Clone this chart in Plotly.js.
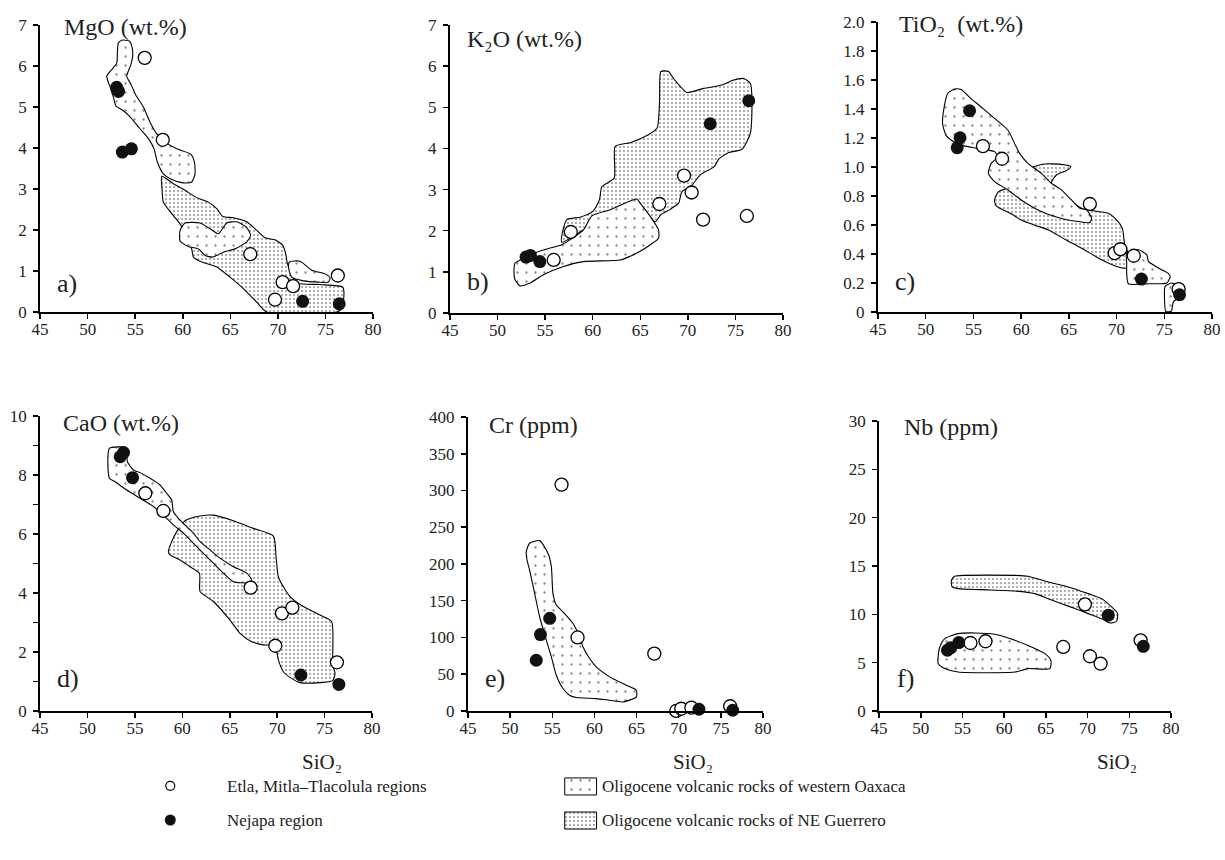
<!DOCTYPE html>
<html><head><meta charset="utf-8">
<script src="https://cdn.plot.ly/plotly-3.0.1.min.js"></script>
<style>html,body{margin:0;padding:0;background:#fff}#chart{width:1225px;height:860px}</style>
</head><body><div id="chart"></div>
<script>
// ---------- DATA ----------
const X_TICKS = [45,50,55,60,65,70,75,80];

// a) MgO
const mgoEtlaSi = [56.0,57.9,67.1,70.5,71.6,69.7,76.3];
const mgoEtla   = [6.20,4.20,1.41,0.73,0.63,0.30,0.89];
const mgoNejapaSi = [53.05,53.25,53.65,54.6,72.6,76.45];
const mgoNejapa   = [5.48,5.38,3.90,3.98,0.26,0.20];
const mgoGuerrero = [[57.79,3.31],[59.02,3.13],[60.24,2.97],[61.47,2.79],[62.69,2.68],[63.57,2.52],[64.20,2.33],[65.32,2.30],[66.72,2.20],[67.78,1.99],[68.65,1.81],[69.70,1.76],[70.51,1.63],[70.86,1.38],[71.00,1.18],[71.98,0.71],[74.43,0.67],[76.81,0.61],[76.95,0.45],[76.71,0.08],[76.18,0],[68.83,0],[67.78,0.24],[66.37,0.57],[64.97,0.85],[63.57,1.10],[61.99,1.22],[61.12,1.34],[60.94,1.54],[60.24,1.91],[59.72,2.15],[58.84,2.40],[57.96,2.68],[57.82,3.01]];
const mgoOaxaca1 = [[53.23,6.56],[53.58,6.63],[54.39,6.61],[54.67,6.46],[54.74,6.26],[54.53,6.02],[54.11,5.75],[54.53,5.57],[55.09,5.28],[55.86,5.00],[56.56,4.63],[57.26,4.35],[58.14,4.15],[59.37,3.98],[60.84,3.85],[61.22,3.66],[61.29,3.37],[60.94,3.17],[60.00,3.15],[58.84,3.23],[57.96,3.37],[57.33,3.66],[56.98,3.98],[56.39,4.23],[55.51,4.47],[54.46,4.76],[53.69,4.92],[52.99,5.02],[52.71,5.24],[52.36,5.49],[52.01,5.75],[52.53,5.91],[53.06,6.07],[53.13,6.34]];
const mgoOaxaca2 = [[59.72,1.99],[60.24,2.17],[61.82,2.17],[62.87,2.03],[63.75,1.91],[64.62,2.17],[65.67,2.20],[66.72,2.06],[67.14,1.87],[66.72,1.71],[65.50,1.54],[64.27,1.46],[63.15,1.34],[62.34,1.38],[61.64,1.54],[60.59,1.60],[59.72,1.73]];
const mgoOaxaca3 = [[71.21,1.22],[72.33,1.24],[73.56,1.02],[74.96,0.93],[75.48,0.84],[75.31,0.73],[74.26,0.73],[72.68,0.76],[71.45,0.85],[71.14,1.06]];

// b) K2O
const k2oEtlaSi = [57.7,55.9,67.0,69.6,70.4,71.6,76.2];
const k2oEtla   = [1.97,1.29,2.65,3.34,2.93,2.27,2.36];
const k2oNejapaSi = [53.0,53.45,54.45,72.35,76.4];
const k2oNejapa   = [1.36,1.40,1.25,4.60,5.16];
const k2oGuerrero = [[56.75,1.72],[57.28,2.27],[58.68,2.33],[60.01,2.47],[60.71,2.75],[60.96,3.07],[62.26,3.28],[62.36,4.05],[63.94,4.14],[65.34,4.27],[66.75,4.49],[67.03,5.18],[67.17,5.87],[67.97,5.87],[68.50,5.70],[69.27,5.49],[69.90,5.36],[71.66,5.46],[73.59,5.54],[74.64,5.65],[75.87,5.70],[76.57,5.58],[76.74,5.18],[76.57,4.37],[75.69,3.98],[74.29,3.90],[73.24,3.74],[72.78,3.56],[71.31,3.36],[70.43,3.11],[69.38,2.95],[69.03,2.67],[68.15,2.52],[67.17,2.39],[66.57,2.22],[65.34,2.51],[64.64,2.59],[61.84,2.43]];
const k2oOaxaca = [[51.84,1.21],[52.37,1.29],[54.12,1.48],[55.52,1.58],[56.75,1.66],[59.03,2.02],[59.91,2.36],[61.84,2.51],[64.64,2.77],[64.99,2.67],[66.05,2.35],[66.92,2.02],[66.92,1.82],[66.05,1.66],[64.99,1.50],[63.94,1.38],[62.89,1.29],[59.03,1.25],[56.93,1.13],[54.82,0.93],[53.42,0.73],[52.37,0.66],[51.84,0.81],[51.73,1.05]];

// c) TiO2
const tio2EtlaSi = [56.0,58.0,67.2,69.8,70.4,71.8,76.5];
const tio2Etla   = [1.144,1.057,0.745,0.406,0.433,0.388,0.158];
const tio2NejapaSi = [54.6,53.6,53.3,72.6,76.6];
const tio2Nejapa   = [1.388,1.202,1.133,0.227,0.119];
const tio2Guerrero = [[57.38,0.732],[57.21,0.773],[57.63,0.830],[58.96,0.865],[60.01,0.933],[60.89,0.991],[62.47,1.021],[64.22,1.018],[65.20,1.002],[64.75,0.975],[63.70,0.945],[63.17,0.888],[66.33,0.716],[68.08,0.693],[69.13,0.681],[70.01,0.635],[70.60,0.578],[70.89,0.452],[71.24,0.406],[71.06,0.303],[70.01,0.314],[68.43,0.360],[66.33,0.440],[64.57,0.502],[62.82,0.567],[61.41,0.599],[60.01,0.635],[58.96,0.677]];
const tio2Oaxaca1 = [[52.30,1.507],[53.00,1.537],[53.70,1.534],[54.75,1.472],[55.80,1.415],[57.21,1.335],[58.61,1.255],[59.31,1.163],[59.84,1.094],[60.71,1.025],[62.12,0.956],[63.17,0.888],[64.22,0.842],[65.27,0.773],[66.15,0.716],[66.85,0.704],[67.38,0.647],[67.20,0.617],[65.97,0.624],[64.92,0.635],[63.52,0.658],[61.77,0.704],[60.01,0.773],[58.61,0.842],[57.21,0.899],[56.57,0.956],[56.86,1.025],[57.56,1.071],[57.21,1.106],[55.45,1.128],[53.70,1.151],[52.65,1.186],[52.12,1.220],[51.77,1.300],[51.94,1.415]];
const tio2Oaxaca2 = [[71.06,0.406],[72.29,0.429],[73.17,0.394],[73.34,0.349],[74.39,0.303],[75.45,0.264],[75.62,0.245],[75.27,0.200],[73.34,0.195],[71.24,0.195],[71.06,0.268],[71.06,0.337]];
const tio2Oaxaca3 = [[75.09,0.177],[75.80,0.200],[76.67,0.165],[76.78,0.108],[75.97,0.073],[75.73,0.005],[75.16,0.005],[75.02,0.096]];

// d) CaO
const caoEtlaSi = [56.1,58.0,67.2,70.5,71.6,69.8,76.3];
const caoEtla   = [7.38,6.78,4.18,3.31,3.50,2.21,1.65];
const caoNejapaSi = [53.45,53.8,54.75,72.5,76.5];
const caoNejapa   = [8.62,8.76,7.91,1.22,0.90];
const caoGuerrero = [[58.53,5.40],[58.88,5.74],[59.41,6.08],[60.28,6.45],[61.87,6.61],[63.27,6.64],[65.38,6.45],[67.49,6.19],[69.60,5.93],[69.88,5.23],[70.12,4.55],[70.65,4.21],[71.35,3.88],[72.76,3.54],[74.52,3.25],[75.74,3.03],[75.85,1.73],[75.92,1.50],[76.10,1.28],[75.85,1.03],[74.52,0.96],[72.41,0.96],[71.35,1.14],[70.65,1.33],[70.12,1.73],[69.77,2.21],[68.54,2.24],[67.31,2.35],[66.08,2.63],[65.03,3.08],[63.27,3.71],[61.87,4.05],[61.80,4.67],[60.81,4.89],[59.76,5.12],[58.70,5.29]];
const caoOaxaca = [[52.31,8.90],[53.96,8.93],[54.14,8.79],[54.21,8.45],[54.84,8.17],[55.54,8.08],[56.60,7.89],[57.65,7.66],[58.35,7.38],[58.88,7.15],[59.05,6.76],[59.58,6.53],[60.46,6.25],[61.16,6.03],[61.87,5.74],[62.74,5.51],[63.97,5.18],[65.38,4.89],[66.79,4.67],[67.31,4.44],[66.96,4.35],[65.38,4.38],[64.33,4.67],[63.27,5.01],[62.22,5.34],[61.16,5.69],[60.11,6.03],[59.05,6.31],[58.00,6.64],[56.95,6.93],[55.54,7.21],[54.14,7.49],[52.91,7.77],[52.31,7.89]];

// e) Cr
const crEtlaSi = [56.1,58.0,67.1,69.7,70.3,71.5,76.1];
const crEtla   = [308,100,78,0,3,4.5,6.4];
const crNejapaSi = [54.7,53.6,53.1,72.4,76.4];
const crNejapa   = [126,104,69,2.3,1];
const crOaxaca = [[51.92,216.8],[52.31,228.2],[53.50,231.8],[54.49,214.5],[54.89,196.4],[55.08,160],[55.48,144.1],[56.27,135],[57.46,119.1],[58.25,100.9],[58.64,87.3],[59.43,71.4],[60.22,60],[61.81,46.4],[63.78,35],[64.97,28.2],[64.97,19.1],[63.39,12.3],[61.81,14.5],[60.22,16.8],[57.85,18.2],[57.06,21.4],[56.27,30.5],[55.48,48.6],[54.89,73.6],[54.29,96.4],[53.50,128.2],[52.91,160],[52.31,191.8],[52.00,205.5]];

// f) Nb
const nbEtlaSi = [55.96,57.76,67.08,70.28,71.56,69.68,76.36];
const nbEtla   = [7.03,7.21,6.62,5.66,4.90,11.03,7.31];
const nbNejapaSi = [53.2,53.6,54.56,72.48,76.68];
const nbNejapa   = [6.28,6.55,7.07,9.90,6.69];
const nbGuerrero = [[53.68,13.52],[54.08,13.93],[55.28,14.03],[61.28,14.03],[62.88,13.93],[65.28,13.34],[67.68,12.83],[70.08,12.14],[71.68,11.62],[72.88,10.76],[73.60,10.07],[73.48,9.28],[72.68,9.10],[71.68,9.55],[70.08,10.07],[68.48,10.59],[66.88,11.10],[65.28,11.62],[63.68,12.14],[61.28,12.41],[57.28,12.55],[54.48,12.66],[53.76,12.83]];
const nbOaxaca = [[52.08,5.59],[52.28,6.62],[52.88,7.48],[54.48,8.0],[56.48,8.07],[58.88,7.93],[61.28,7.31],[63.28,6.62],[64.88,5.93],[65.60,5.24],[65.48,4.38],[62.88,4.38],[61.28,4.03],[54.48,4.03],[52.88,4.38],[52.08,4.90]];

// Text
const panelTitles = ['MgO (wt.%)','K\u2082O (wt.%)','TiO\u2082\u00A0\u00A0(wt.%)','CaO (wt.%)','Cr (ppm)','Nb (ppm)'];
const panelLetters = ['a)','b)','c)','d)','e)','f)'];
const xAxisLabel = 'SiO\u2082';
const legendLabels = ['Etla, Mitla\u2013Tlacolula regions','Nejapa region','Oligocene volcanic rocks of western Oaxaca','Oligocene volcanic rocks of NE Guerrero'];

// ---------- STYLE ----------
const FONT = 'Liberation Serif, Times New Roman, serif';
const DENSE = {shape:'.', size:4, solidity:0.2, fgcolor:'#222', bgcolor:'#fff', fillmode:'overlay'};
const SPARSE = {shape:'.', size:9, solidity:0.05, fgcolor:'#000', bgcolor:'#fff', fillmode:'overlay'};

const traces = [];
function field(pairs, pattern, n){
  const xs = pairs.map(p=>p[0]); const ys = pairs.map(p=>p[1]);
  xs.push(xs[0]); ys.push(ys[0]);
  traces.push({type:'scatter', mode:'lines', x:xs, y:ys, fill:'toself', fillcolor:'#fff',
    fillpattern:pattern, line:{color:'#000', width:1.1, shape:'spline', smoothing:0.6},
    xaxis:'x'+(n>1?n:''), yaxis:'y'+(n>1?n:''), hoverinfo:'skip', showlegend:false});
}
function pts(xs, ys, open, n){
  traces.push({type:'scatter', mode:'markers', x:xs, y:ys, cliponaxis:false,
    marker:{size:13, symbol:'circle', color:open?'#fff':'#111', line:{color:'#000', width:open?1.3:0}},
    xaxis:'x'+(n>1?n:''), yaxis:'y'+(n>1?n:''), hoverinfo:'x+y', showlegend:false});
}

field(mgoGuerrero, DENSE, 1); field(mgoOaxaca1, SPARSE, 1); field(mgoOaxaca2, SPARSE, 1); field(mgoOaxaca3, SPARSE, 1);
pts(mgoEtlaSi, mgoEtla, true, 1); pts(mgoNejapaSi, mgoNejapa, false, 1);
field(k2oGuerrero, DENSE, 2); field(k2oOaxaca, SPARSE, 2);
pts(k2oEtlaSi, k2oEtla, true, 2); pts(k2oNejapaSi, k2oNejapa, false, 2);
field(tio2Guerrero, DENSE, 3); field(tio2Oaxaca1, SPARSE, 3); field(tio2Oaxaca2, SPARSE, 3); field(tio2Oaxaca3, SPARSE, 3);
pts(tio2EtlaSi, tio2Etla, true, 3); pts(tio2NejapaSi, tio2Nejapa, false, 3);
field(caoGuerrero, DENSE, 4); field(caoOaxaca, SPARSE, 4);
pts(caoEtlaSi, caoEtla, true, 4); pts(caoNejapaSi, caoNejapa, false, 4);
field(crOaxaca, SPARSE, 5);
pts(crEtlaSi, crEtla, true, 5); pts(crNejapaSi, crNejapa, false, 5);
field(nbGuerrero, DENSE, 6); field(nbOaxaca, SPARSE, 6);
pts(nbEtlaSi, nbEtla, true, 6); pts(nbNejapaSi, nbNejapa, false, 6);

// legend swatches on a hidden helper axis
traces.push({type:'scatter', mode:'markers', x:[0.139], y:[0.575], xaxis:'x7', yaxis:'y7',
  marker:{size:9, color:'#fff', line:{color:'#000', width:1.2}}, hoverinfo:'skip', showlegend:false});
traces.push({type:'scatter', mode:'markers', x:[0.139], y:[0.31], xaxis:'x7', yaxis:'y7',
  marker:{size:11, color:'#111'}, hoverinfo:'skip', showlegend:false});
traces.push({type:'scatter', mode:'lines', x:[0.461,0.487,0.487,0.461,0.461], y:[0.504,0.504,0.636,0.636,0.504],
  fill:'toself', fillcolor:'#fff', fillpattern:SPARSE, line:{color:'#000', width:1}, xaxis:'x7', yaxis:'y7', hoverinfo:'skip', showlegend:false});
traces.push({type:'scatter', mode:'lines', x:[0.461,0.487,0.487,0.461,0.461], y:[0.24,0.24,0.372,0.372,0.24],
  fill:'toself', fillcolor:'#fff', fillpattern:DENSE, line:{color:'#000', width:1}, xaxis:'x7', yaxis:'y7', hoverinfo:'skip', showlegend:false});

// ---------- AXES ----------
const axBase = {showline:true, linecolor:'#000', linewidth:2, ticks:'outside', ticklen:5, tickwidth:1.5,
  tickcolor:'#000', showgrid:false, zeroline:false, fixedrange:true,
  tickfont:{family:FONT, size:17, color:'#222'}};
function xax(dom, anchor){ return Object.assign({}, axBase, {domain:dom, anchor:anchor, range:[45,80], tickvals:X_TICKS, ticklabelstandoff:-4}); }
function yax(dom, anchor, range, dtick, extra){ return Object.assign({}, axBase, {domain:dom, anchor:anchor, range:range, dtick:dtick, ticklabelstandoff:3}, extra||{}); }

const tio2Ticks = [0,0.2,0.4,0.6,0.8,1.0,1.2,1.4,1.6,1.8,2.0];
const layout = {
  width:1225, height:860, margin:{l:0,r:0,t:0,b:0}, paper_bgcolor:'#fff', plot_bgcolor:'rgba(0,0,0,0)',
  showlegend:false, font:{family:FONT, color:'#222'},
  xaxis: xax([0.0327,0.3045],'y'),  yaxis: yax([0.6372,0.9709],'x',[0,7],1),
  xaxis2: xax([0.3673,0.6392],'y2'), yaxis2: yax([0.6360,0.9709],'x2',[0,7],1),
  xaxis3: xax([0.7167,0.9894],'y3'), yaxis3: yax([0.6372,0.9744],'x3',[0,2],0.2,
      {tickvals:tio2Ticks, ticktext:tio2Ticks.map(v=>v===0?'0':v.toFixed(1))}),
  xaxis4: xax([0.0327,0.3037],'y4'), yaxis4: yax([0.1733,0.5163],'x4',[0,10],2,
      {minor:{dtick:1, ticks:'outside', ticklen:5, tickwidth:1.5, tickcolor:'#000', showgrid:false}}),
  xaxis5: xax([0.3820,0.6229],'y5'), yaxis5: yax([0.1733,0.5151],'x5',[0,400],50),
  xaxis6: xax([0.7176,0.9559],'y6'), yaxis6: yax([0.1733,0.5105],'x6',[0,30],5),
  xaxis7: {domain:[0,1], anchor:'y7', range:[0,1], visible:false, fixedrange:true},
  yaxis7: {domain:[0,0.15], anchor:'x7', range:[0,1], visible:false, fixedrange:true},
  annotations: []
};

const titlePos = [[0.0506,0.9686],[0.3796,0.9547],[0.7322,0.9721],[0.0498,0.5081],[0.3976,0.5058],[0.7363,0.5035]];
const letterPos = [[0.0449,0.6698],[0.3796,0.6721],[0.7290,0.6721],[0.0449,0.2116],[0.3943,0.2105],[0.7306,0.2105]];
panelTitles.forEach((t,i)=>layout.annotations.push({text:t, xref:'paper', yref:'paper', x:titlePos[i][0], y:titlePos[i][1],
  xanchor:'left', yanchor:'middle', showarrow:false, font:{family:FONT, size:24, color:'#222'}}));
panelLetters.forEach((t,i)=>layout.annotations.push({text:t, xref:'paper', yref:'paper', x:letterPos[i][0], y:letterPos[i][1],
  xanchor:'left', yanchor:'middle', showarrow:false, font:{family:FONT, size:26, color:'#222'}}));
[0.2629,0.5657,0.9118].forEach(x=>layout.annotations.push({text:xAxisLabel, xref:'paper', yref:'paper', x:x, y:0.114,
  xanchor:'center', yanchor:'middle', showarrow:false, font:{family:FONT, size:21, color:'#222'}}));
const legPos = [[0.1837,0.086],[0.1837,0.0465],[0.4898,0.086],[0.4898,0.0465]];
legendLabels.forEach((t,i)=>layout.annotations.push({text:t, xref:'paper', yref:'paper', x:legPos[i][0], y:legPos[i][1],
  xanchor:'left', yanchor:'middle', showarrow:false, font:{family:FONT, size:17, color:'#222'}}));

Plotly.newPlot('chart', traces, layout, {displayModeBar:false, staticPlot:true});
</script></body></html>
